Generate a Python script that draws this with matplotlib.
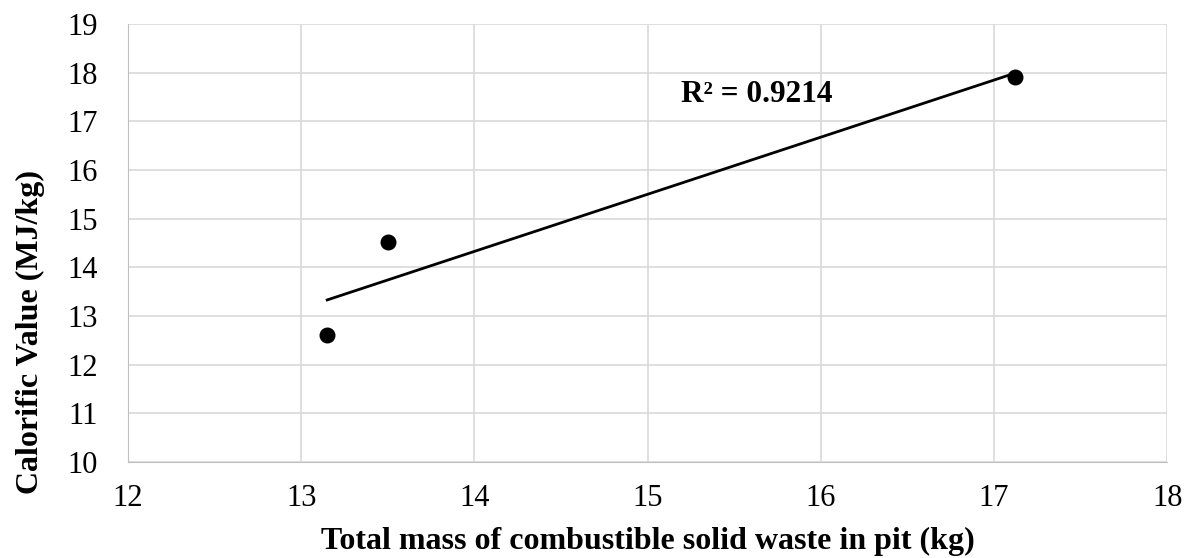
import numpy as np
import matplotlib
matplotlib.use("Agg")
import matplotlib.pyplot as plt

plt.rcParams['font.family'] = ['Liberation Serif', 'DejaVu Serif']

# measured samples
mass = [13.15, 13.5, 17.12]
calorific = [12.62, 14.52, 17.92]
r2_label = "R² = 0.9214"

fig = plt.figure(figsize=(11.91, 5.58), dpi=100)
ax = fig.add_axes([0.1075, 0.172, 0.8725, 0.785])

ax.scatter(mass, calorific, s=110, color='black', zorder=3)

# linear trendline over the data range
coef = np.polyfit(mass, calorific, 1)
xs = np.array([min(mass), max(mass)])
ax.plot(xs, np.polyval(coef, xs), color='black', lw=2, zorder=2)

ax.text(15.19, 17.55, r2_label, fontsize=22.5, fontweight='bold', va='center')

ax.set_xlim(12, 18)
ax.set_ylim(10, 19)
ax.set_xticks(range(12, 19))
ax.set_yticks(range(10, 20))
ax.grid(True, color='#d9d9d9', lw=1.2)
ax.set_axisbelow(True)
for s in ['top', 'right']:
    ax.spines[s].set_visible(False)
for s in ['left', 'bottom']:
    ax.spines[s].set_color('#bfbfbf')
ax.tick_params(length=0, labelsize=22)
ax.tick_params(axis='x', pad=16)
ax.tick_params(axis='y', pad=22)

ax.set_xlabel("Total mass of combustible solid waste in pit (kg)", fontsize=23, fontweight='bold', labelpad=10)
ax.set_ylabel("Calorific Value (MJ/kg)", fontsize=23, fontweight='bold', labelpad=16)
ax.yaxis.label.set_y(0.297)

fig.savefig("out.png", dpi=100)
